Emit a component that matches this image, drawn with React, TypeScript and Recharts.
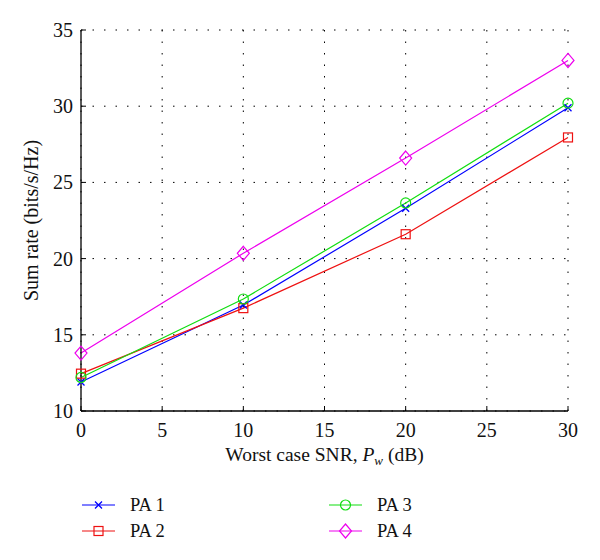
import React from "react";
import { LineChart, Line, XAxis, YAxis, CartesianGrid, Legend, Label } from "recharts";

// values
const snrDb = [0, 10, 20, 30];
const pa1 = [11.9, 16.95, 23.3, 29.9];
const pa2 = [12.45, 16.75, 21.6, 27.95];
const pa3 = [12.2, 17.35, 23.65, 30.2];
const pa4 = [13.8, 20.35, 26.6, 33.0];
const xTicks = [0, 5, 10, 15, 20, 25, 30];
const yTicks = [10, 15, 20, 25, 30, 35];
const seriesNames = ["PA 1", "PA 2", "PA 3", "PA 4"];

const FONT = '"Liberation Serif", "Times New Roman", serif';

const data = snrDb.map((snr, i) => ({
    snr,
    pa1: pa1[i],
    pa2: pa2[i],
    pa3: pa3[i],
    pa4: pa4[i],
}));

const series = [
    { key: "pa1", name: seriesNames[0], color: "#0000ff", marker: "x" },
    { key: "pa2", name: seriesNames[1], color: "#ee1111", marker: "square" },
    { key: "pa3", name: seriesNames[2], color: "#11dd11", marker: "circle" },
    { key: "pa4", name: seriesNames[3], color: "#ee00ee", marker: "diamond" },
];

const Marker = ({ kind, cx, cy, color }: { kind: string; cx: number; cy: number; color: string }) => {
    if (kind === "x") {
        const s = 3.5;
        return (
            <path
                d={`M${cx - s},${cy - s}L${cx + s},${cy + s}M${cx - s},${cy + s}L${cx + s},${cy - s}`}
                stroke={color}
                strokeWidth={1.3}
                fill="none"
            />
        );
    }
    if (kind === "square") {
        return <rect x={cx - 4.5} y={cy - 4.5} width={9} height={9} stroke={color} strokeWidth={1.2} fill="none" />;
    }
    if (kind === "circle") {
        return <circle cx={cx} cy={cy} r={5} stroke={color} strokeWidth={1.2} fill="none" />;
    }
    return (
        <path
            d={`M${cx},${cy - 7}L${cx + 6},${cy}L${cx},${cy + 7}L${cx - 6},${cy}Z`}
            stroke={color}
            strokeWidth={1.2}
            fill="none"
        />
    );
};

// inward ticks, like the original plot
const bottomTick = (p: any) => (
    <g>
        <line x1={p.x} y1={p.y} x2={p.x} y2={p.y - 5} stroke="#000" />
        <text x={p.x} y={p.y + 26} textAnchor="middle" fontSize={20} fontFamily={FONT} fill="#111">
            {p.payload.value}
        </text>
    </g>
);
const topTick = (p: any) => <line x1={p.x} y1={p.y} x2={p.x} y2={p.y + 5} stroke="#000" />;
const leftTick = (p: any) => (
    <g>
        <line x1={p.x} y1={p.y} x2={p.x + 5} y2={p.y} stroke="#000" />
        <text x={p.x - 8} y={p.y + 7} textAnchor="end" fontSize={20} fontFamily={FONT} fill="#111">
            {p.payload.value}
        </text>
    </g>
);
const rightTick = (p: any) => <line x1={p.x} y1={p.y} x2={p.x - 5} y2={p.y} stroke="#000" />;

const xLabel = (p: any) => {
    const vb = p.viewBox;
    return (
        <text x={vb.x + vb.width / 2} y={vb.y + 50} textAnchor="middle" fontSize={19.5} fontFamily={FONT} fill="#111">
            Worst case SNR, <tspan fontStyle="italic">P</tspan>
            <tspan fontStyle="italic" fontSize={13} dy={4}>w</tspan>
            <tspan dy={-4}> (dB)</tspan>
        </text>
    );
};

const yLabel = (p: any) => {
    const vb = p.viewBox;
    const cx = 30;
    const cy = vb.y + vb.height / 2;
    return (
        <text
            x={cx}
            y={cy}
            transform={`rotate(-90 ${cx} ${cy})`}
            textAnchor="middle"
            fontSize={20}
            fontFamily={FONT}
            fill="#111"
        >
            Sum rate (bits/s/Hz)
        </text>
    );
};

const legendContent = () => {
    const cols = [74, 321];
    const rows = [17, 43];
    return (
        <svg width={520} height={60}>
            {series.map((s, i) => {
                const x = cols[Math.floor(i / 2)];
                const y = rows[i % 2];
                return (
                    <g key={s.key}>
                        <line x1={x} y1={y} x2={x + 33} y2={y} stroke={s.color} strokeWidth={1.2} />
                        <Marker kind={s.marker} cx={x + 16.5} cy={y} color={s.color} />
                        <text x={x + 48} y={y + 6} fontSize={18.5} fontFamily={FONT} fill="#111">
                            {s.name}
                        </text>
                    </g>
                );
            })}
        </svg>
    );
};

export default function App() {
    return (
        <LineChart
            width={584}
            height={544}
            data={data}
            margin={{ top: 22, right: 24, left: 0, bottom: 86 }}
        >
            <CartesianGrid xAxisId="b" yAxisId="l" stroke="#000" strokeDasharray="1.5 10" fill="none" />
            <XAxis
                xAxisId="b"
                dataKey="snr"
                type="number"
                domain={[0, 30]}
                ticks={xTicks}
                interval={0}
                height={55}
                tickSize={0}
                tickMargin={0}
                tickLine={false}
                tick={bottomTick}
                axisLine={{ stroke: "#000", strokeWidth: 1.3 }}
            >
                <Label content={xLabel} />
            </XAxis>
            <XAxis
                xAxisId="t"
                orientation="top"
                dataKey="snr"
                type="number"
                domain={[0, 30]}
                ticks={xTicks}
                interval={0}
                height={0}
                tickSize={0}
                tickMargin={0}
                tickLine={false}
                tick={topTick}
                axisLine={{ stroke: "#000", strokeWidth: 1.3 }}
            />
            <YAxis
                yAxisId="l"
                type="number"
                domain={[10, 35]}
                ticks={yTicks}
                interval={0}
                width={73}
                tickSize={0}
                tickMargin={0}
                tickLine={false}
                tick={leftTick}
                axisLine={{ stroke: "#000", strokeWidth: 1.3 }}
            >
                <Label content={yLabel} />
            </YAxis>
            <YAxis
                yAxisId="r"
                orientation="right"
                type="number"
                domain={[10, 35]}
                ticks={yTicks}
                interval={0}
                width={0}
                tickSize={0}
                tickMargin={0}
                tickLine={false}
                tick={rightTick}
                axisLine={{ stroke: "#000", strokeWidth: 1.3 }}
            />
            {series.map((s) => (
                <Line
                    key={s.key}
                    xAxisId="b"
                    yAxisId="l"
                    type="linear"
                    dataKey={s.key}
                    name={s.name}
                    stroke={s.color}
                    strokeWidth={1.2}
                    isAnimationActive={false}
                    dot={(p: any) => <Marker key={`${s.key}-${p.index}`} kind={s.marker} cx={p.cx} cy={p.cy} color={s.color} />}
                    activeDot={false}
                />
            ))}
            <Legend
                layout="horizontal"
                verticalAlign="middle"
                align="center"
                content={legendContent}
                wrapperStyle={{ left: 0, top: 480, width: 520, height: 60 }}
            />
        </LineChart>
    );
}
